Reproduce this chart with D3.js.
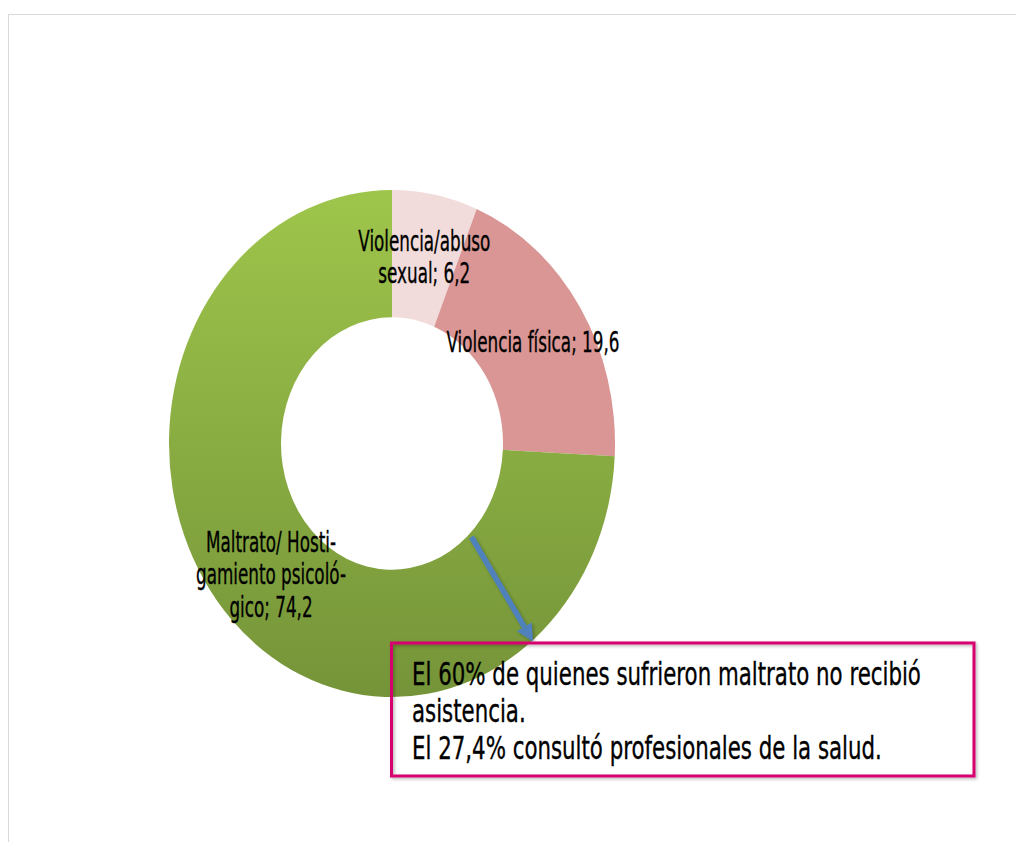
<!DOCTYPE html>
<html>
<head>
<meta charset="utf-8">
<script src="https://cdn.jsdelivr.net/npm/d3@7"></script>
<style>
  html, body { margin: 0; padding: 0; background: #fff; }
  svg { display: block; }
  text { font-family: "Liberation Sans Narrow", "DejaVu Sans Condensed", "Arial Narrow", sans-serif; fill: #000; stroke: #000; stroke-width: 0.35px; }
</style>
</head>
<body>
<svg id="chart" width="1016" height="842"></svg>
<script>
// ---- data ----
const categories = ["Violencia/abuso sexual", "Violencia física", "Maltrato/ Hostigamiento psicológico"];
const values = [6.2, 19.6, 74.2];
const labelLines = [
  ["Violencia/abuso", "sexual; 6,2"],
  ["Violencia física; 19,6"],
  ["Maltrato/ Hosti-", "gamiento psicoló-", "gico; 74,2"]
];
const noteLines = [
  "El 60% de quienes sufrieron maltrato no recibió",
  "asistencia.",
  "El 27,4% consultó profesionales de la salud."
];

// ---- layout ----
const W = 1016, H = 842;
const cx = 392, cy = 443.5;
const rOuter = 223, rInner = 111, yStretch = 1.137;
const sliceFills = ["#f2dcdb", "#d99694", "url(#greenGrad)"];

const svg = d3.select("#chart");
const defs = svg.append("defs");

const grad = defs.append("linearGradient")
  .attr("id", "greenGrad").attr("gradientUnits", "userSpaceOnUse")
  .attr("x1", 0).attr("y1", -rOuter).attr("x2", 0).attr("y2", rOuter);
grad.append("stop").attr("offset", "0%").attr("stop-color", "#9ec54b");
grad.append("stop").attr("offset", "100%").attr("stop-color", "#759439");

const shadow = defs.append("filter").attr("id", "shadow")
  .attr("x", "-20%").attr("y", "-20%").attr("width", "140%").attr("height", "140%");
shadow.append("feDropShadow").attr("dx", 1.5).attr("dy", 1.5).attr("stdDeviation", 1.5)
  .attr("flood-color", "#000").attr("flood-opacity", 0.3);

// outer frame
svg.append("rect")
  .attr("x", 8.5).attr("y", 14.5).attr("width", W + 50).attr("height", H + 50)
  .attr("fill", "none").attr("stroke", "#d9d9d9").attr("stroke-width", 1);

// ---- donut ----
const pie = d3.pie().sort(null).value(d => d);
const arcs = pie(values);
const arc = d3.arc().innerRadius(rInner).outerRadius(rOuter);

const g = svg.append("g").attr("transform", `translate(${cx},${cy}) scale(1,${yStretch})`);
g.selectAll("path.slice").data(arcs).enter().append("path")
  .attr("class", "slice")
  .attr("d", arc)
  .attr("fill", (d, i) => sliceFills[i]);

// helper: horizontally condense a text element around its anchor point
function condense(sel, f) {
  sel.each(function () {
    const t = d3.select(this);
    const x = +t.attr("data-x"), y = +t.attr("data-y");
    t.attr("x", 0).attr("y", 0).attr("transform", `translate(${x},${y}) scale(${f},1)`);
  });
}

// ---- labels (at arc centroids) ----
const labelArc = d3.arc().innerRadius((rInner + rOuter) / 2).outerRadius((rInner + rOuter) / 2);
const labelSize = 29, labelLH = 32.5, labelBase = 10;
const labelG = svg.append("g");
arcs.forEach((d, i) => {
  const c = labelArc.centroid(d);
  const x = cx + c[0], y = cy + c[1] * yStretch;
  const lines = labelLines[i];
  lines.forEach((ln, j) => {
    const yy = y + (j - (lines.length - 1) / 2) * labelLH + labelBase;
    labelG.append("text")
      .attr("class", "lbl")
      .attr("x", x).attr("y", yy)
      .attr("data-x", x).attr("data-y", yy)
      .attr("text-anchor", "middle")
      .attr("font-size", labelSize)
      .text(ln);
  });
});
(function () {
  const ref = labelG.selectAll("text.lbl").filter(function () { return this.textContent === labelLines[1][0]; }).node();
  const f = 173 / ref.getComputedTextLength();
  condense(labelG.selectAll("text.lbl"), f);
})();

// ---- arrow ----
const ax1 = 471.5, ay1 = 537, ax2 = 533, ay2 = 641.5;
const ang = Math.atan2(ay2 - ay1, ax2 - ax1);
const headL = 17, headW = 8.5;
const bx = ax2 - headL * Math.cos(ang), by = ay2 - headL * Math.sin(ang);
const arrowG = svg.append("g").attr("filter", "url(#shadow)");
arrowG.append("line")
  .attr("x1", ax1).attr("y1", ay1).attr("x2", bx).attr("y2", by)
  .attr("stroke", "#4f81bd").attr("stroke-width", 5.5);
arrowG.append("path")
  .attr("d", `M${ax2},${ay2} L${bx + headW * Math.sin(ang)},${by - headW * Math.cos(ang)} L${bx - headW * Math.sin(ang)},${by + headW * Math.cos(ang)} Z`)
  .attr("fill", "#4f81bd");

// ---- note box ----
svg.append("rect")
  .attr("x", 391.5).attr("y", 643).attr("width", 582.5).attr("height", 133)
  .attr("fill", "none").attr("stroke", "#d6006e").attr("stroke-width", 3)
  .attr("filter", "url(#shadow)");

const noteG = svg.append("g");
const noteSize = 32, noteLH = 37;
noteLines.forEach((ln, j) => {
  noteG.append("text")
    .attr("x", 412).attr("y", 685 + j * noteLH)
    .attr("data-x", 412).attr("data-y", 685 + j * noteLH)
    .attr("font-size", noteSize)
    .text(ln);
});
(function () {
  const ref = noteG.select("text").node();
  const f = 509 / ref.getComputedTextLength();
  condense(noteG.selectAll("text"), f);
})();
</script>
</body>
</html>
